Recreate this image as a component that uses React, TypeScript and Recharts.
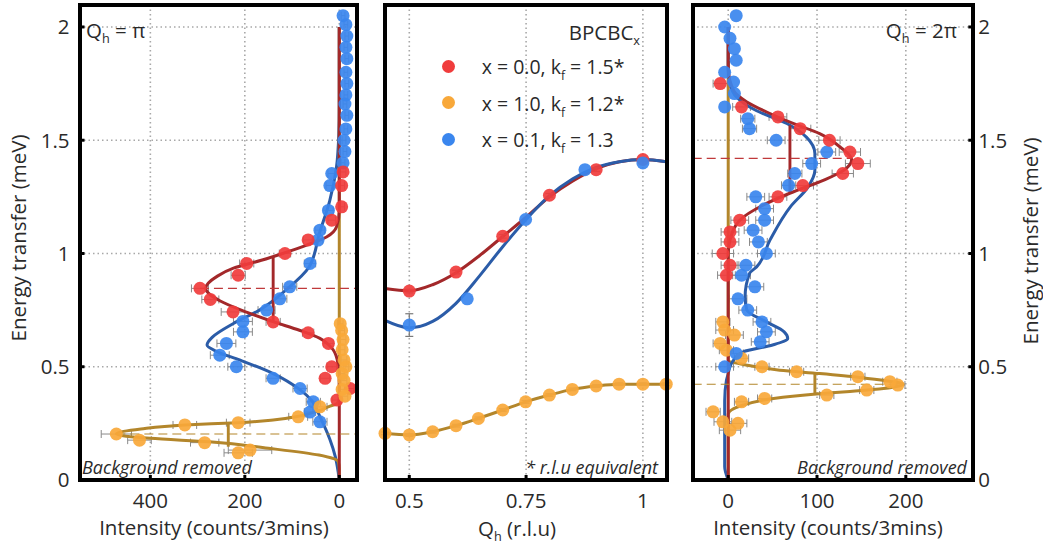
import React from 'react'
import {
  CartesianGrid,
  ComposedChart,
  ErrorBar,
  Line,
  Scatter,
  XAxis,
  YAxis,
} from 'recharts'

const FONT = "'Open Sans', sans-serif"
const RED = '#f03c3c'
const ORANGE = '#f8a83a'
const BLUE = '#3a86ee'
const RED_FIT = '#a3282a'
const ORANGE_FIT = '#b3862b'
const BLUE_FIT = '#2b5ca8'

const energyTicks = [0, 0.5, 1, 1.5, 2]
const piTicks = [0, 200, 400]
const qhTicks = [0.5, 0.75, 1]
const twoPiTicks = [0, 100, 200]

// ---- Qh = pi : [energy, intensity, error]
const piRedPts = [
  [1.36, -8, 6], [1.3, -5, 6], [1.206, -5, 6], [1.147, 16, 8], [1.06, 66, 10],
  [1.0, 115, 12], [0.956, 196, 15], [0.904, 214, 15], [0.846, 295, 18],
  [0.797, 273, 18], [0.742, 225, 25], [0.698, 140, 15], [0.65, 66, 12],
  [0.603, 23, 10], [0.5, 16, 10], [0.449, 30, 10], [0.404, -23, 8], [0.353, 5, 10],
]
const piOrangePts = [
  [0.69, -2, 6], [0.66, -5, 6], [0.62, -8, 6], [0.575, -6, 6], [0.53, -10, 6],
  [0.5, -14, 6], [0.47, -6, 6], [0.44, -10, 6], [0.4, -6, 6], [0.37, -12, 6],
  [0.323, 41, 15], [0.279, 87, 20], [0.253, 214, 25], [0.243, 327, 25],
  [0.203, 472, 32], [0.176, 423, 25], [0.165, 285, 30], [0.132, 189, 46], [0.12, 214, 30],
]
const piBluePts = [
  [2.05, -8, 4], [2.01, -14, 4], [1.96, -16, 4], [1.91, -14, 4], [1.86, -16, 4],
  [1.8, -14, 4], [1.75, -16, 4], [1.7, -14, 4], [1.66, -12, 4], [1.61, -16, 4],
  [1.55, -14, 4], [1.5, -10, 4], [1.45, -12, 4], [1.4, -8, 4], [1.353, 16, 8],
  [1.3, 20, 8], [1.19, 23, 10], [1.103, 41, 10], [1.059, 45, 10], [0.956, 62, 12],
  [0.853, 105, 15], [0.8, 126, 15], [0.75, 154, 18], [0.7, 204, 20], [0.654, 204, 20],
  [0.603, 239, 20], [0.551, 253, 20], [0.5, 218, 18], [0.449, 140, 15], [0.404, 83, 15],
  [0.345, 55, 15], [0.3, 62, 12], [0.257, 41, 15],
]
const piRedFit = [
  [0, 0], [0.45, 0], [0.5, 2], [0.55, 7], [0.575, 13], [0.6, 24], [0.625, 41],
  [0.66, 83], [0.7, 142], [0.74, 195], [0.79, 252], [0.846, 283], [0.9, 258],
  [0.935, 224], [0.97, 165], [1.0, 120], [1.037, 69], [1.073, 27], [1.117, 6],
  [1.19, 0], [2.0, 0],
]
const piOrangeFit = [
  [0, 0], [0.05, 0], [0.08, 2], [0.11, 43], [0.14, 150], [0.169, 275], [0.184, 400],
  [0.203, 472], [0.225, 420], [0.243, 327], [0.253, 214], [0.265, 140], [0.283, 83],
  [0.305, 45], [0.324, 22], [0.338, 5], [0.36, 0], [2.0, 0],
]
const piBlueFit = [
  [0, 0], [0.03, 2], [0.1, 8], [0.18, 20], [0.28, 41], [0.35, 58], [0.4, 84],
  [0.47, 140], [0.53, 211], [0.566, 258], [0.596, 280], [0.632, 268], [0.69, 225],
  [0.75, 169], [0.84, 112], [0.94, 64], [1.09, 42], [1.235, 20], [1.38, 6],
  [1.53, 1], [1.65, 0], [2.0, 0],
]
const piRedWidth = [[0.698, 140], [0.985, 140]]
const piOrangeWidth = [[0.147, 235], [0.25, 235]]
const piRedCentre = [[0.846, 295], [0.846, -37.5]]
const piOrangeCentre = [[0.203, 472], [0.203, -37.5]]

// ---- energy vs Qh : [Qh, energy, error]
const qhRedPts = [[0.5, 0.834, 0.008], [0.6, 0.918, 0.008], [0.7, 1.076, 0.008], [0.8, 1.257, 0.008], [0.9, 1.37, 0.008], [1.0, 1.415, 0.008]]
const qhBluePts = [[0.5, 0.684, 0.05], [0.624, 0.8, 0], [0.749, 1.15, 0], [0.876, 1.37, 0], [1.0, 1.4, 0]]
const qhOrangePts = [
  [0.448, 0.206, 0.006], [0.5, 0.199, 0.006], [0.55, 0.213, 0.006], [0.6, 0.24, 0.006],
  [0.648, 0.272, 0.006], [0.7, 0.309, 0.006], [0.749, 0.345, 0.006], [0.8, 0.375, 0.006],
  [0.849, 0.4, 0.006], [0.9, 0.415, 0.006], [0.949, 0.423, 0.006], [1.0, 0.423, 0.006], [1.05, 0.423, 0.006],
]
const qhRedFit = [
  [0.448, 0.845], [0.5, 0.835], [0.55, 0.862], [0.6, 0.915], [0.65, 0.99], [0.7, 1.075],
  [0.75, 1.16], [0.8, 1.25], [0.85, 1.32], [0.9, 1.375], [0.95, 1.405], [1.0, 1.415], [1.05, 1.405],
]
const qhBlueFit = [
  [0.448, 0.705], [0.5, 0.672], [0.55, 0.7], [0.6, 0.78], [0.65, 0.9], [0.7, 1.03],
  [0.75, 1.15], [0.8, 1.255], [0.85, 1.33], [0.9, 1.38], [0.95, 1.405], [1.0, 1.415], [1.05, 1.405],
]
const qhOrangeFit = qhOrangePts.map(([q, E]) => [q, E])

// ---- Qh = 2pi : [energy, intensity, error]
const twoPiRedPts = [
  [1.75, -9, 8], [1.647, 15, 10], [1.603, 56, 10], [1.551, 81, 12], [1.5, 114, 12],
  [1.448, 137, 12], [1.397, 146, 14], [1.353, 129, 12], [1.3, 84, 12], [1.25, 56, 10],
  [1.147, 13, 10], [1.095, 2, 10], [1.051, 2, 10], [1.0, -6, 12], [0.948, 2, 10], [0.904, -2, 10],
]
const twoPiBluePts = [
  [2.05, 9, 0], [2.0, -4, 0], [1.95, 2, 0], [1.904, 7, 0], [1.853, 9, 0], [1.8, -4, 0],
  [1.757, 6, 0], [1.706, 7, 0], [1.647, -4, 0], [1.595, 22, 8], [1.551, 24, 8],
  [1.5, 54, 10], [1.448, 111, 10], [1.397, 94, 10], [1.353, 75, 8], [1.301, 68, 8],
  [1.25, 31, 10], [1.198, 41, 10], [1.147, 41, 10], [1.103, 28, 10], [1.051, 34, 10],
  [1.0, 43, 10], [0.948, 20, 10], [0.904, 15, 10], [0.853, 30, 10], [0.8, 11, 10],
  [0.75, 22, 10], [0.698, 38, 10], [0.654, 43, 10], [0.61, 36, 10], [0.559, 9, 8], [0.5, -4, 10],
]
const twoPiOrangePts = [
  [0.698, -6, 8], [0.662, -4, 10], [0.64, 7, 10], [0.603, -9, 8], [0.573, -2, 8],
  [0.537, 15, 8], [0.5, 38, 8], [0.478, 77, 8], [0.456, 146, 8], [0.434, 182, 8],
  [0.419, 191, 8], [0.397, 156, 8], [0.375, 111, 8], [0.36, 41, 8], [0.345, 15, 8],
  [0.301, -17, 8], [0.257, -6, 10], [0.25, 11, 10], [0.22, 2, 12],
]
const twoPiRedFit = [
  [0, 0], [1.0, 0], [1.059, 2], [1.147, 13], [1.213, 39], [1.267, 70], [1.323, 107],
  [1.367, 130], [1.415, 139], [1.47, 126], [1.529, 103], [1.574, 73], [1.618, 47],
  [1.669, 21], [1.72, 6], [1.82, 0], [2.0, 0],
]
const twoPiOrangeFit = [
  [0, 0], [0.29, 0], [0.331, 17], [0.36, 51], [0.379, 96], [0.39, 133], [0.404, 175],
  [0.423, 197], [0.438, 178], [0.453, 148], [0.47, 103], [0.485, 58], [0.507, 21],
  [0.53, 0], [2.0, 0],
]
const twoPiBlueFit = [
  [0, 0], [0.06, -4], [0.35, -4], [0.44, -2], [0.47, 0], [0.5, 2], [0.529, 6],
  [0.566, 17], [0.596, 50], [0.625, 67], [0.654, 63], [0.698, 43], [0.75, 21],
  [0.809, 19], [0.912, 24], [0.941, 32], [1.059, 47], [1.206, 70], [1.294, 90],
  [1.367, 97.6], [1.441, 97.6], [1.514, 88], [1.574, 66], [1.63, 32], [1.69, 9.5],
  [1.75, 2], [1.82, 0], [2.0, 0],
]
const twoPiRedWidth = [[1.27, 69.5], [1.566, 69.5]]
const twoPiOrangeWidth = [[0.379, 97.6], [0.471, 97.6]]
const twoPiRedCentre = [[1.42, -40], [1.42, 140]]
const twoPiOrangeCentre = [[0.423, -40], [0.423, 197]]

const ePts = (rows: number[][]) => rows.map(([E, I, err]) => ({ E, I, err }))
const qPts = (rows: number[][]) => rows.map(([q, E, err]) => ({ q, E, err }))

const tickText = { fill: '#2a2a2a', fontSize: 20.5, fontFamily: FONT }
const tickMark = { stroke: '#000', strokeWidth: 3 }
const gridProps = { stroke: '#a8a8a8', strokeDasharray: '1.5 3', strokeWidth: 1.6 }
const E_DOM: [number, number] = [0, 2.097]

const dot = (color: string) => (p: any) => (
  <circle cx={p.cx} cy={p.cy} r={6.5} fill={color} fillOpacity={0.92} />
)

const Sub = ({ children }: { children: React.ReactNode }) => (
  <span style={{ fontSize: '0.62em', verticalAlign: '-0.45em', lineHeight: 0 }}>{children}</span>
)

function Frame({ left, right }: { left: number; right: number }) {
  return (
    <div
      style={{
        position: 'absolute',
        left: left - 2,
        top: 3,
        width: right - left + 4,
        height: 479,
        border: '4px solid #000',
        boxSizing: 'border-box',
      }}
    />
  )
}

function Txt({ x, y, children, anchor = 'left', style = {} }: any) {
  const tx = anchor === 'left' ? '0' : anchor === 'right' ? '-100%' : '-50%'
  return (
    <div
      style={{
        position: 'absolute',
        left: x,
        top: y,
        transform: `translate(${tx}, -50%)`,
        whiteSpace: 'nowrap',
        lineHeight: 1,
        ...style,
      }}
    >
      {children}
    </div>
  )
}

function fit(data: number[][], color: string, width = 3, dash?: string) {
  return (
    <Line
      data={ePts(data)}
      dataKey="I"
      type={dash || width < 3 ? 'linear' : 'monotone'}
      stroke={color}
      strokeWidth={width}
      strokeDasharray={dash}
      dot={false}
      activeDot={false}
      isAnimationActive={false}
    />
  )
}

function pts(data: number[][], color: string) {
  return (
    <Scatter data={ePts(data)} shape={dot(color)} isAnimationActive={false}>
      <ErrorBar dataKey="err" direction="x" width={4} stroke="#8a8a8a" strokeWidth={1} />
    </Scatter>
  )
}

function LeftPanel() {
  const dom: [number, number] = [-37.5, 550]
  return (
    <ComposedChart
      width={1043}
      height={547}
      layout="vertical"
      margin={{ top: 5, left: 19.5, right: 686, bottom: 27 }}
    >
      <CartesianGrid {...gridProps} />
      <XAxis type="number" dataKey="I" domain={dom} reversed ticks={piTicks} interval={0}
        height={40} tickSize={-5} tickMargin={18} axisLine={false} tickLine={tickMark} tick={tickText} />
      <XAxis xAxisId="top" orientation="top" type="number" domain={dom} reversed ticks={piTicks}
        interval={0} height={0} tickSize={-5} axisLine={false} tickLine={tickMark} tick={false} />
      <YAxis type="number" dataKey="E" domain={E_DOM} reversed ticks={energyTicks} interval={0}
        width={60} tickSize={-5} tickMargin={15} axisLine={false} tickLine={tickMark} tick={tickText} />
      <YAxis yAxisId="r" orientation="right" type="number" domain={E_DOM} reversed ticks={energyTicks}
        interval={0} width={0} tickSize={-5} axisLine={false} tickLine={tickMark} tick={false} />
      {pts(piBluePts, BLUE)}
      {pts(piRedPts, RED)}
      {pts(piOrangePts, ORANGE)}
      {fit(piBlueFit, BLUE_FIT)}
      {fit(piOrangeFit, ORANGE_FIT)}
      {fit(piRedFit, RED_FIT)}
      {fit(piRedWidth, RED_FIT, 2.9)}
      {fit(piOrangeWidth, ORANGE_FIT, 2.9)}
      {fit(piRedCentre, '#c0393b', 1.1, '9 5')}
      {fit(piOrangeCentre, ORANGE_FIT, 1.1, '9 5')}
    </ComposedChart>
  )
}

function qLine(data: number[][], color: string) {
  return (
    <Line data={qPts(data)} dataKey="E" type="monotone" stroke={color} strokeWidth={3}
      dot={false} activeDot={false} isAnimationActive={false} />
  )
}

function qDots(data: number[][], color: string) {
  return (
    <Scatter data={qPts(data)} shape={dot(color)} isAnimationActive={false}>
      <ErrorBar dataKey="err" direction="y" width={4} stroke="#7a7a7a" strokeWidth={1.2} />
    </Scatter>
  )
}

function MiddlePanel() {
  const dom: [number, number] = [0.448, 1.051]
  return (
    <ComposedChart width={1043} height={547} margin={{ top: 5, left: 385, right: 376.3, bottom: 27 }}>
      <CartesianGrid {...gridProps} />
      <XAxis type="number" dataKey="q" domain={dom} ticks={qhTicks} interval={0}
        height={40} tickSize={-5} tickMargin={18} axisLine={false} tickLine={tickMark} tick={tickText} />
      <XAxis xAxisId="top" orientation="top" type="number" domain={dom} ticks={qhTicks}
        interval={0} height={0} tickSize={-5} axisLine={false} tickLine={tickMark} tick={false} />
      <YAxis type="number" dataKey="E" domain={E_DOM} ticks={energyTicks} interval={0}
        width={0} tickSize={-5} axisLine={false} tickLine={tickMark} tick={false} />
      <YAxis yAxisId="r" orientation="right" type="number" domain={E_DOM} ticks={energyTicks}
        interval={0} width={0} tickSize={-5} axisLine={false} tickLine={tickMark} tick={false} />
      {qLine(qhOrangeFit, ORANGE_FIT)}
      {qLine(qhRedFit, RED_FIT)}
      {qLine(qhBlueFit, BLUE_FIT)}
      {qDots(qhOrangePts, ORANGE)}
      {qDots(qhRedPts, RED)}
      {qDots(qhBluePts, BLUE)}
    </ComposedChart>
  )
}

function RightPanel() {
  const dom: [number, number] = [-40, 276]
  return (
    <ComposedChart
      width={1043}
      height={547}
      layout="vertical"
      margin={{ top: 5, left: 692.7, right: 9.7, bottom: 27 }}
    >
      <CartesianGrid {...gridProps} />
      <XAxis type="number" dataKey="I" domain={dom} ticks={twoPiTicks} interval={0}
        height={40} tickSize={-5} tickMargin={18} axisLine={false} tickLine={tickMark} tick={tickText} />
      <XAxis xAxisId="top" orientation="top" type="number" domain={dom} ticks={twoPiTicks}
        interval={0} height={0} tickSize={-5} axisLine={false} tickLine={tickMark} tick={false} />
      <YAxis type="number" dataKey="E" orientation="right" domain={E_DOM} reversed ticks={energyTicks}
        interval={0} width={60} tickSize={-5} tickMargin={10} axisLine={false} tickLine={tickMark} tick={tickText} />
      <YAxis yAxisId="l" orientation="left" type="number" domain={E_DOM} reversed ticks={energyTicks}
        interval={0} width={0} tickSize={-5} axisLine={false} tickLine={tickMark} tick={false} />
      {pts(twoPiOrangePts, ORANGE)}
      {pts(twoPiBluePts, BLUE)}
      {pts(twoPiRedPts, RED)}
      {fit(twoPiOrangeFit, ORANGE_FIT)}
      {fit(twoPiBlueFit, BLUE_FIT)}
      {fit(twoPiRedFit, RED_FIT)}
      {fit(twoPiRedWidth, RED_FIT, 2.9)}
      {fit(twoPiOrangeWidth, ORANGE_FIT, 2.9)}
      {fit(twoPiRedCentre, '#c0393b', 1.1, '9 5')}
      {fit(twoPiOrangeCentre, ORANGE_FIT, 1.1, '9 5')}
    </ComposedChart>
  )
}

const legend = [
  { color: RED, x: '0.0', k: '1.5*' },
  { color: ORANGE, x: '1.0', k: '1.2*' },
  { color: BLUE, x: '0.1', k: '1.3' },
]

export default function App() {
  const layer = { position: 'absolute' as const, left: 0, top: 0 }
  const italic = { fontStyle: 'italic', fontSize: 18 }
  return (
    <div
      style={{
        position: 'absolute',
        left: 0,
        top: 0,
        width: 1043,
        height: 547,
        background: '#fff',
        overflow: 'hidden',
        fontFamily: FONT,
        color: '#2a2a2a',
        fontSize: 20.5,
      }}
    >
      <div style={layer}><LeftPanel /></div>
      <div style={layer}><MiddlePanel /></div>
      <div style={layer}><RightPanel /></div>
      <Frame left={79.5} right={357} />
      <Frame left={385} right={666.7} />
      <Frame left={692.7} right={973.3} />

      <Txt x={86} y={30}>Q<Sub>h</Sub> = π</Txt>
      <Txt x={640} y={32} anchor="right">BPCBC<Sub>x</Sub></Txt>
      <Txt x={957} y={30} anchor="right">Q<Sub>h</Sub> = 2π</Txt>
      {legend.map((r, i) => (
        <React.Fragment key={i}>
          <div style={{ position: 'absolute', left: 448.3 - 6.5, top: 66 + i * 36.7 - 6.5, width: 13, height: 13, borderRadius: '50%', background: r.color }} />
          <Txt x={481.7} y={67 + i * 36.7} style={{ fontSize: 19.5 }}>
            x = {r.x}, k<Sub>f</Sub> = {r.k}
          </Txt>
        </React.Fragment>
      ))}
      <Txt x={82} y={467} style={italic}>Background removed</Txt>
      <Txt x={967} y={467} anchor="right" style={italic}>Background removed</Txt>
      <Txt x={658} y={467} anchor="right" style={italic}>* r.l.u equivalent</Txt>

      <Txt x={214} y={527} anchor="center">Intensity (counts/3mins)</Txt>
      <Txt x={828} y={527} anchor="center">Intensity (counts/3mins)</Txt>
      <Txt x={517} y={528} anchor="center">Q<Sub>h</Sub> (r.l.u)</Txt>
      <Txt x={18} y={238} anchor="center" style={{ transform: 'translate(-50%, -50%) rotate(-90deg)' }}>
        Energy transfer (meV)
      </Txt>
      <Txt x={1030} y={241} anchor="center" style={{ transform: 'translate(-50%, -50%) rotate(-90deg)' }}>
        Energy transfer (meV)
      </Txt>
    </div>
  )
}
